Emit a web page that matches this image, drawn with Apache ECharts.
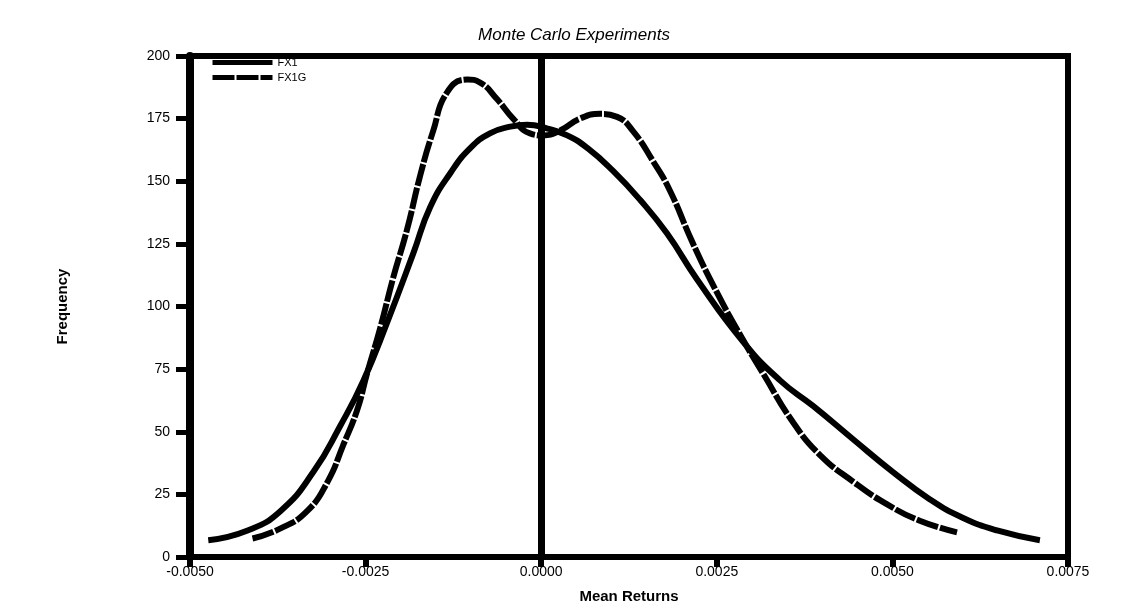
<!DOCTYPE html>
<html>
<head>
<meta charset="utf-8">
<script src="https://cdn.jsdelivr.net/npm/echarts@6/dist/echarts.min.js"></script>
<style>html,body{margin:0;padding:0;background:#fff}#c{width:1148px;height:609px}</style>
</head>
<body>
<div id="c"></div>
<script>
const titleText = "Monte Carlo Experiments";
const xTitle = "Mean Returns";
const yTitle = "Frequency";
const seriesNames = ["FX1", "FX1G"];
const xTicks = [-0.005, -0.0025, 0, 0.0025, 0.005, 0.0075];
const yTicks = [0, 25, 50, 75, 100, 125, 150, 175, 200];

const fx1X = [-0.00474,-0.00418,-0.00371,-0.00324,-0.00286,-0.00253,-0.00219,-0.00182,-0.00158,-0.00129,-0.00101,-0.00073,-0.00044,-0.0002,0.00009,0.00037,0.00066,0.00102,0.00141,0.00179,0.00222,0.00287,0.0034,0.00387,0.00444,0.005,0.00553,0.006,0.00649,0.0071];
const fx1Y = [6.7,10.6,18.4,34.1,52.4,70.5,93.9,121.3,139.7,153.4,163.2,169.1,171.8,172.6,171.0,168.3,163.2,154.2,142.5,129.2,110.8,86.1,70.5,60.3,47.0,34.1,23.1,15.7,10.6,6.7];

const fx1gX = [-0.00411,-0.00371,-0.00333,-0.00304,-0.00282,-0.00262,-0.00248,-0.00229,-0.00211,-0.00191,-0.00172,-0.00154,-0.00134,-0.00105,-0.00087,-0.00063,-0.0004,-0.00016,0.00003,0.00027,0.00055,0.00084,0.00108,0.00131,0.00159,0.00183,0.00216,0.0025,0.00283,0.00316,0.00359,0.00397,0.00444,0.00492,0.00539,0.00592];
const fx1gY = [7.4,11.4,18.4,30.1,44.6,58.7,73.2,91.6,111.2,130.7,152.6,169.9,185.5,190.6,189.4,182.8,175.0,169.1,168.3,170.3,175.0,176.9,175.7,169.9,158.1,146.4,125.2,105.7,88.8,73.2,53.6,40.7,30.1,21.1,14.5,9.8];

const zip = (xs, ys) => xs.map((x, i) => [x, ys[i]]);

const chart = echarts.init(document.getElementById('c'), null, {renderer: 'canvas'});
chart.setOption({
  animation: false,
  backgroundColor: '#fff',
  title: {
    text: titleText, left: 'center', top: 22,
    textStyle: {fontFamily: 'Liberation Sans', fontStyle: 'italic', fontWeight: 'normal', fontSize: 17, color: '#000'}
  },
  legend: {
    orient: 'vertical', left: 205, top: 52, itemGap: 4,
    itemWidth: 60, itemHeight: 8,
    itemStyle: {opacity: 0},
    lineStyle: {width: 5},
    textStyle: {fontFamily: 'Liberation Sans', fontSize: 11, color: '#000'},
    data: seriesNames
  },
  grid: {left: 190, right: 80, top: 56, bottom: 42, show: true, borderColor: '#000', borderWidth: 6, containLabel: false},
  xAxis: {
    type: 'value', min: xTicks[0], max: xTicks[xTicks.length - 1], interval: 0.0025,
    name: xTitle, nameLocation: 'middle', nameGap: 32,
    nameTextStyle: {fontFamily: 'Liberation Sans', fontWeight: 'bold', fontSize: 15, color: '#000'},
    axisLine: {show: true, onZero: false, lineStyle: {color: '#000', width: 6}},
    axisTick: {show: true, length: 10, lineStyle: {color: '#000', width: 6}},
    axisLabel: {color: '#000', fontFamily: 'Liberation Sans', fontSize: 14, margin: 8, formatter: v => v.toFixed(4)},
    splitLine: {show: false}
  },
  yAxis: {
    type: 'value', min: yTicks[0], max: yTicks[yTicks.length - 1], interval: 25,
    name: yTitle, nameLocation: 'middle', nameGap: 120, nameRotate: 90,
    nameTextStyle: {fontFamily: 'Liberation Sans', fontWeight: 'bold', fontSize: 15, color: '#000'},
    axisLine: {show: true, onZero: false, lineStyle: {color: '#000', width: 8}},
    axisTick: {show: true, length: 14, lineStyle: {color: '#000', width: 5}},
    axisLabel: {color: '#000', fontFamily: 'Liberation Sans', fontSize: 14, margin: 20},
    splitLine: {show: false}
  },
  series: [
    {
      name: seriesNames[0], type: 'line', smooth: 0.5, symbol: 'none',
      data: zip(fx1X, fx1Y),
      lineStyle: {color: '#000', width: 6, type: 'solid'},
      itemStyle: {color: '#000'},
      markLine: {
        silent: true, symbol: 'none', label: {show: false},
        lineStyle: {color: '#000', width: 7, type: 'solid'},
        data: [{xAxis: 0}]
      }
    },
    {
      name: seriesNames[1], type: 'line', smooth: 0.5, symbol: 'none',
      data: zip(fx1gX, fx1gY),
      lineStyle: {color: '#000', width: 6, type: [22, 2]},
      itemStyle: {color: '#000'}
    }
  ]
});
</script>
</body>
</html>
